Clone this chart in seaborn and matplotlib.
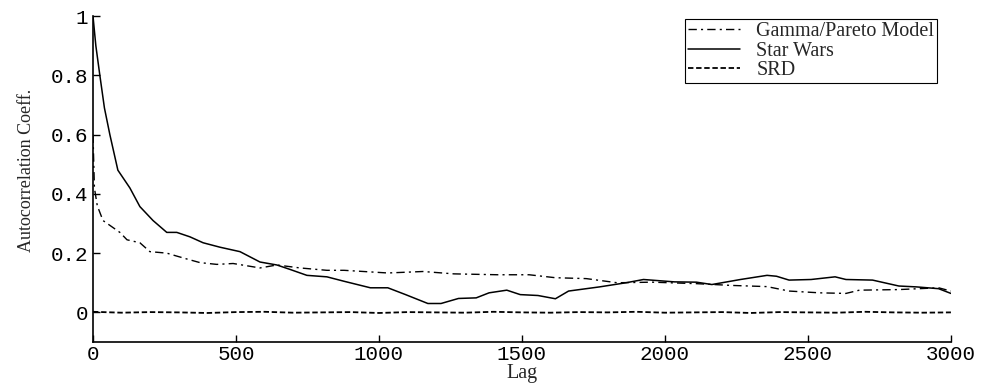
import numpy as np
import pandas as pd
import seaborn as sns
import matplotlib.pyplot as plt
from matplotlib.ticker import FormatStrFormatter

# autocorrelation curves
sw_lag = [0, 10, 24, 40, 59, 87, 129, 164, 210, 258, 293, 339, 385, 444, 514,
          584, 643, 689, 748, 818, 878, 970, 1031, 1093, 1171, 1217, 1278, 1340,
          1385, 1447, 1494, 1556, 1617, 1663, 1771, 1864, 1925, 2033, 2110, 2164,
          2264, 2357, 2390, 2434, 2511, 2595, 2633, 2726, 2818, 2880, 2957, 3000]
sw_acf = [1.0, 0.9, 0.8, 0.69, 0.6, 0.48, 0.42, 0.357, 0.31, 0.27, 0.27, 0.255,
          0.235, 0.22, 0.205, 0.17, 0.16, 0.145, 0.125, 0.12, 0.105, 0.083, 0.083,
          0.06, 0.03, 0.03, 0.047, 0.049, 0.066, 0.075, 0.06, 0.057, 0.046, 0.072,
          0.086, 0.1, 0.111, 0.103, 0.102, 0.094, 0.111, 0.125, 0.122, 0.109,
          0.111, 0.12, 0.111, 0.109, 0.089, 0.086, 0.08, 0.064]

gp_lag = [0, 5, 15, 35, 94, 119, 164, 199, 258, 293, 329, 374, 433, 490, 584,
          643, 724, 818, 878, 1031, 1154, 1262, 1416, 1525, 1617, 1725, 1833,
          1955, 2110, 2233, 2357, 2434, 2541, 2633, 2680, 2818, 2957, 3000]
gp_acf = [0.6, 0.42, 0.36, 0.31, 0.27, 0.245, 0.235, 0.205, 0.2, 0.19, 0.18,
          0.168, 0.162, 0.165, 0.15, 0.16, 0.15, 0.142, 0.142, 0.133, 0.138, 0.13,
          0.127, 0.127, 0.117, 0.114, 0.1, 0.102, 0.097, 0.091, 0.087, 0.072,
          0.066, 0.064, 0.075, 0.077, 0.083, 0.072]

srd_lag = [0, 100, 200, 300, 400, 500, 600, 700, 800, 900, 1000, 1100, 1200,
           1300, 1400, 1500, 1600, 1700, 1800, 1900, 2000, 2100, 2200, 2300,
           2400, 2500, 2600, 2700, 2800, 2900, 3000]
srd_acf = [0.002, -0.001, 0.001, 0.0, -0.002, 0.001, 0.002, -0.001, 0.0, 0.001,
           -0.002, 0.001, 0.0, -0.001, 0.002, 0.0, -0.001, 0.001, 0.0, 0.002,
           -0.001, 0.0, 0.001, -0.002, 0.001, 0.0, -0.001, 0.002, 0.0, -0.001, 0.0]

sns.set_style("ticks")
plt.rcParams['font.family'] = ['Liberation Serif', 'DejaVu Serif']

fig = plt.figure(figsize=(9.85, 3.83), dpi=100)
ax = fig.add_axes([0.0944, 0.107, 0.871, 0.851])

sns.lineplot(x=gp_lag, y=gp_acf, ax=ax, color='black', lw=1.0,
             label='Gamma/Pareto Model')
ax.lines[-1].set_linestyle((0, (6, 3, 1.5, 3)))
sns.lineplot(x=sw_lag, y=sw_acf, ax=ax, color='black', lw=1.1, label='Star Wars')
sns.lineplot(x=srd_lag, y=srd_acf, ax=ax, color='black', lw=1.3, label='SRD')
ax.lines[-1].set_linestyle((0, (3, 1.5)))

ax.set_xlim(0, 3000)
ax.set_ylim(-0.1, 1)
ax.set_xticks([0, 500, 1000, 1500, 2000, 2500, 3000])
ax.set_yticks([0, 0.2, 0.4, 0.6, 0.8, 1])
ax.yaxis.set_major_formatter(FormatStrFormatter('%g'))
ax.tick_params(direction='in', length=5, width=1, colors='black')
ax.tick_params(axis='x', pad=2)
for lab in ax.get_xticklabels() + ax.get_yticklabels():
    lab.set_family('Liberation Mono')
    lab.set_fontsize(15)
sns.despine(ax=ax)
for s in ['left', 'bottom']:
    ax.spines[s].set_color('black')
    ax.spines[s].set_linewidth(1.2)

ax.set_xlabel('Lag', fontsize=14.5)
ax.xaxis.set_label_coords(0.5, -0.066)
ax.set_ylabel('Autocorrelation Coeff.', fontsize=13)
ax.yaxis.set_label_coords(-0.068, 0.525)

leg = ax.legend(loc='upper right', bbox_to_anchor=(0.984, 0.99), fontsize=14.5,
                frameon=True, fancybox=False, edgecolor='black', framealpha=1,
                handlelength=2.6, labelspacing=0.0, borderpad=0.15,
                handletextpad=0.8, borderaxespad=0)
leg.get_frame().set_linewidth(0.8)

fig.savefig('out.png', dpi=100)
